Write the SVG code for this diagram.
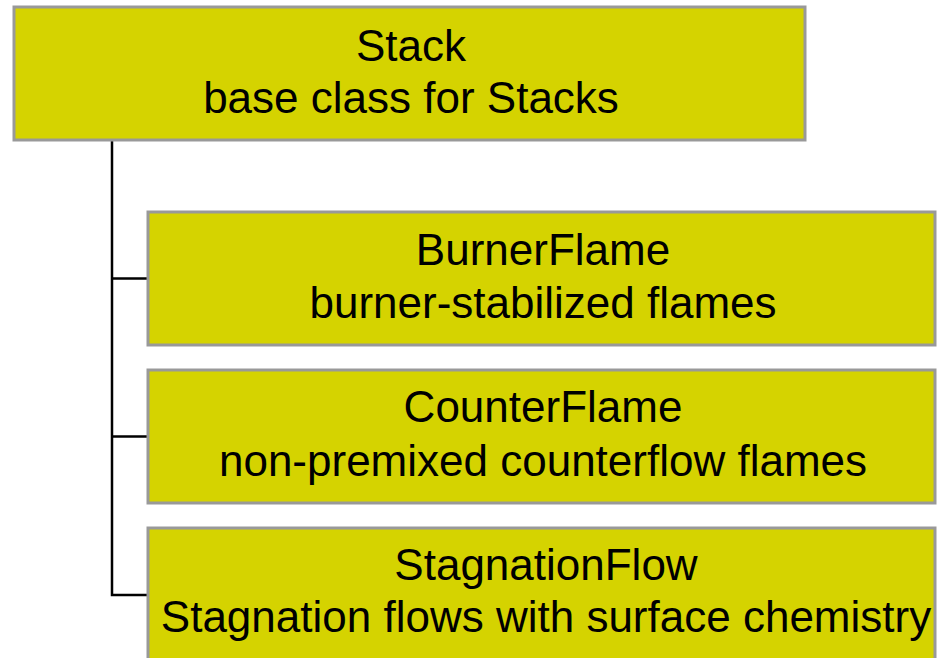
<svg xmlns="http://www.w3.org/2000/svg" width="937" height="658" viewBox="0 0 937 658">
  <style>
    .box { fill: #D5D300; stroke: #999999; stroke-width: 3; }
    .label { font-family: "Liberation Sans", Arial, sans-serif; font-size: 44px; fill: #000000; text-anchor: middle; }
    .link { fill: none; stroke: #000000; stroke-width: 2.5; }
  </style>
  <rect width="937" height="658" fill="#ffffff"/>

  <g id="connectors">
    <path class="link" d="M112,141 V595 H148"/>
    <path class="link" d="M112,278.5 H148"/>
    <path class="link" d="M112,436.5 H148"/>
  </g>

  <g id="stack">
    <rect class="box" x="14" y="7" width="791" height="133"/>
    <text class="label" x="411" y="61">Stack</text>
    <text class="label" x="411" y="113">base class for Stacks</text>
  </g>

  <g id="burnerflame">
    <rect class="box" x="148" y="212" width="787" height="133"/>
    <text class="label" x="543" y="265">BurnerFlame</text>
    <text class="label" x="543" y="318">burner-stabilized flames</text>
  </g>

  <g id="counterflame">
    <rect class="box" x="148" y="370" width="787" height="133"/>
    <text class="label" x="543" y="422">CounterFlame</text>
    <text class="label" x="543" y="476">non-premixed counterflow flames</text>
  </g>

  <g id="stagnationflow">
    <rect class="box" x="148" y="528" width="787" height="140"/>
    <text class="label" x="546" y="580">StagnationFlow</text>
    <text class="label" x="546" y="632">Stagnation flows with surface chemistry</text>
  </g>
</svg>
